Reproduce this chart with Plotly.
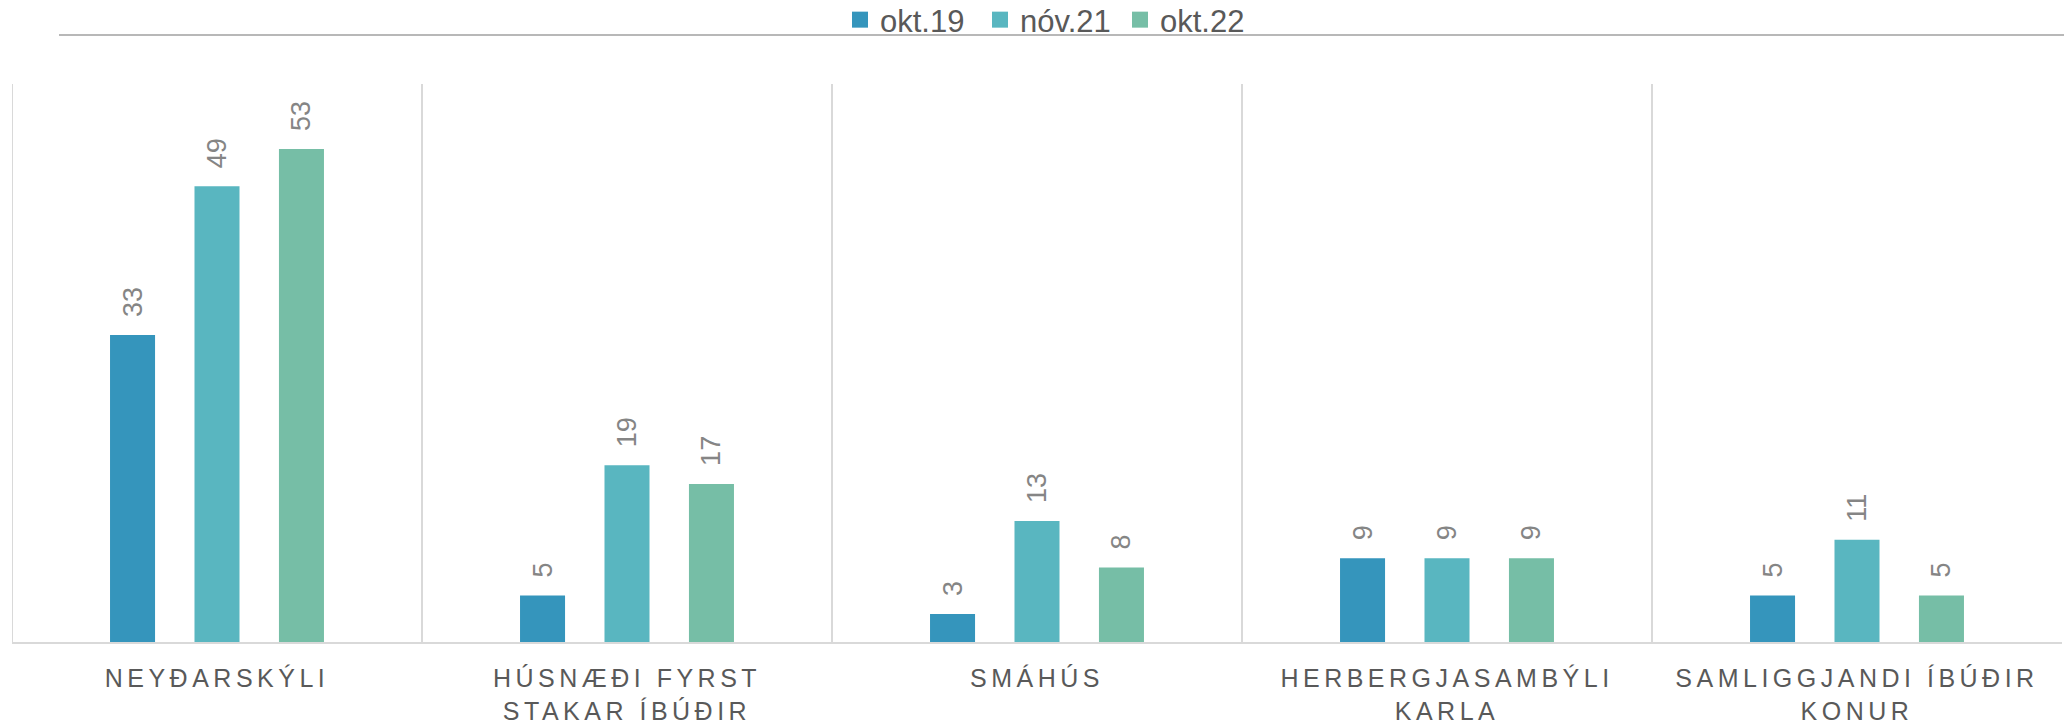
import plotly.graph_objects as go

categories = ["NEYÐARSKÝLI", "HÚSNÆÐI FYRST<br>STAKAR ÍBÚÐIR", "SMÁHÚS",
              "HERBERGJASAMBÝLI<br>KARLA", "SAMLIGGJANDI ÍBÚÐIR<br>KONUR"]
series_names = ["okt.19", "nóv.21", "okt.22"]
okt19 = [33, 5, 3, 9, 5]
nov21 = [49, 19, 13, 9, 11]
okt22 = [53, 17, 8, 9, 5]
colors = ["#3595BC", "#59B6C0", "#76BEA6"]

FONT = "Liberation Sans, Arial, sans-serif"
W, H = 2064, 723
ML, MR, MT, MB = 12, 2, 84, 81

fig = go.Figure()
for name, vals, col in zip(series_names, [okt19, nov21, okt22], colors):
    fig.add_trace(go.Bar(
        x=categories, y=vals, name=name, marker=dict(color=col, line=dict(width=0)),
        texttemplate="\u00a0\u00a0%{y}", textposition="outside", textangle=-90,
        textfont=dict(family=FONT, size=27, color="#858585"),
        constraintext="none", cliponaxis=False, showlegend=False,
    ))
    fig.add_trace(go.Scatter(
        x=[None], y=[None], mode="markers", name=name,
        marker=dict(symbol="square", size=16, color=col),
    ))

shapes = []
for b in [-0.5, 0.5, 1.5, 2.5, 3.5]:
    shapes.append(dict(type="line", xref="x", yref="paper", x0=b, x1=b, y0=0, y1=1,
                       line=dict(color="#D9D9D9", width=2), layer="below"))
plot_w = W - ML - MR
plot_h = H - MT - MB
shapes.append(dict(type="line", xref="paper", yref="paper",
                   x0=(59 - ML) / plot_w, x1=(W - ML) / plot_w,
                   y0=(H - MB - 35) / plot_h, y1=(H - MB - 35) / plot_h,
                   line=dict(color="#A0A0A0", width=1.5)))

fig.update_layout(
    width=W, height=H,
    margin=dict(l=ML, r=MR, t=MT, b=MB, autoexpand=False),
    paper_bgcolor="white", plot_bgcolor="white",
    barmode="group", bargap=0.382, bargroupgap=0.467,
    showlegend=True,
    legend=dict(orientation="h", xref="container", yref="container",
                x=1050 / W, xanchor="center", y=1 - 20 / H, yanchor="middle",
                bgcolor="rgba(0,0,0,0)",
                font=dict(family=FONT, size=31, color="#595959"),
                entrywidth=95, itemclick=False),
    shapes=shapes,
    xaxis=dict(showgrid=False, showline=True, linecolor="#D9D9D9", linewidth=2,
               ticks="outside", ticklen=13, tickcolor="rgba(0,0,0,0)",
               tickfont=dict(family=FONT, size=25, color="#595959"),
               range=[-0.5, 4.5], zeroline=False, automargin=False),
    yaxis=dict(range=[0, 60], showgrid=False, showticklabels=False, zeroline=False,
               showline=False, automargin=False),
)

post = """
document.body.style.margin = '0';
document.body.style.padding = '0';
document.querySelectorAll('.xtick text').forEach(function(e){
  e.style.letterSpacing = '4.5px';
});
"""
fig.write_html("out.html", post_script=post, config={"displayModeBar": False})
